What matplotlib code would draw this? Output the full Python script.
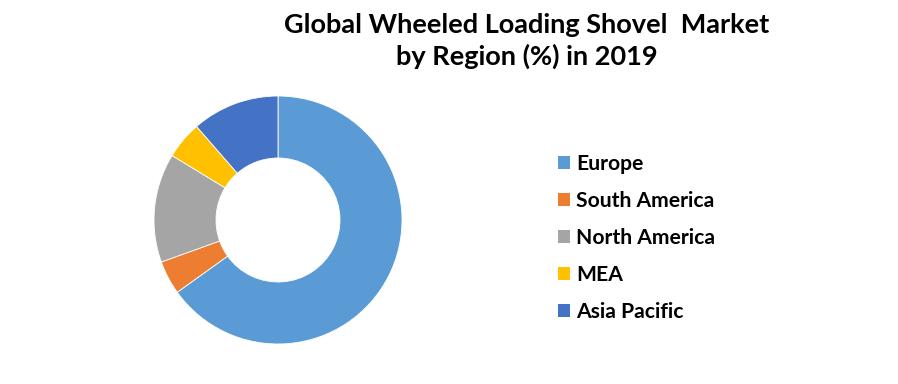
import matplotlib.pyplot as plt
from matplotlib.patches import Patch

regions = ['Europe', 'South America', 'North America', 'MEA', 'Asia Pacific']
shares = [65.1, 4.4, 14.2, 4.9, 11.4]
colors = ['#5B9BD5', '#ED7D31', '#A5A5A5', '#FFC000', '#4472C4']

plt.rcParams['font.family'] = ['Lato', 'DejaVu Sans']

W, H = 898, 384
fig = plt.figure(figsize=(W / 100, H / 100), dpi=100)

# donut, centre ~ (278, 220) px, outer radius ~124 px
cx, cy, r = 278, 220, 124
ax = fig.add_axes([(cx - r) / W, (H - cy - r) / H, 2 * r / W, 2 * r / H])
ax.pie(shares, colors=colors, startangle=90, counterclock=False, radius=1,
       wedgeprops=dict(width=0.5, edgecolor='white', linewidth=0.6))
ax.set_xlim(-1, 1)
ax.set_ylim(-1, 1)
ax.set_aspect('equal')
ax.axis('off')

fig.text(527 / W, 1 - 41 / H, 'Global Wheeled Loading Shovel  Market\nby Region (%) in 2019',
         ha='center', va='center', fontsize=19.5, fontweight='bold', linespacing=1.3)

handles = [Patch(facecolor=c, edgecolor='none') for c in colors]
fig.legend(handles, regions, loc='center left', bbox_to_anchor=(539 / W, 1 - 238 / H),
           frameon=False, prop={'size': 15.2, 'weight': 'bold'},
           handlelength=0.57, handleheight=0.57, handletextpad=0.3, labelspacing=0.8)

fig.savefig('out.png', dpi=100)
